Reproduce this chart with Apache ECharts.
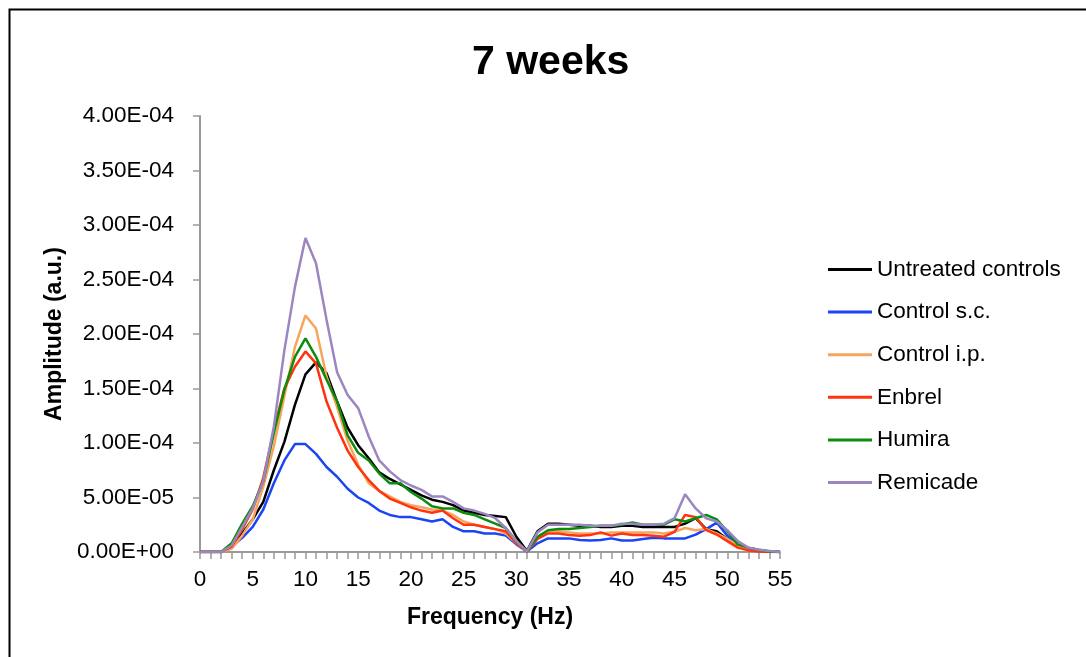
<!DOCTYPE html>
<html>
<head>
<meta charset="utf-8">
<title>7 weeks</title>
<script src="https://cdn.jsdelivr.net/npm/echarts@6/dist/echarts.min.js"></script>
<style>
  html, body { margin: 0; padding: 0; background: #fff; }
  #main { width: 1086px; height: 657px; }
</style>
</head>
<body>
<div id="main"></div>
<script>
// frequency (Hz), one point per bin
const freq = [0, 1, 2, 3, 4, 5, 6, 7, 8, 9, 10, 11, 12, 13, 14, 15, 16, 17, 18, 19,
  20, 21, 22, 23, 24, 25, 26, 27, 28, 29, 30, 31, 32, 33, 34, 35, 36, 37, 38, 39,
  40, 41, 42, 43, 44, 45, 46, 47, 48, 49, 50, 51, 52, 53, 54, 55];

// amplitudes (a.u.)
const untreated = [0, 0, 0, 0.5e-5, 1.7e-5, 3.0e-5, 4.6e-5, 7.5e-5, 10.1e-5, 13.5e-5,
  16.3e-5, 17.4e-5, 16.4e-5, 13.8e-5, 11.4e-5, 9.8e-5, 8.6e-5, 7.3e-5, 6.7e-5, 6.2e-5,
  5.7e-5, 5.2e-5, 4.8e-5, 4.6e-5, 4.3e-5, 3.8e-5, 3.6e-5, 3.4e-5, 3.3e-5, 3.2e-5,
  1.4e-5, 0.1e-5, 1.9e-5, 2.6e-5, 2.6e-5, 2.5e-5, 2.4e-5, 2.4e-5, 2.3e-5, 2.3e-5,
  2.4e-5, 2.4e-5, 2.3e-5, 2.3e-5, 2.3e-5, 2.3e-5, 2.6e-5, 3.1e-5, 2.1e-5, 1.9e-5,
  1.2e-5, 0.5e-5, 0.3e-5, 0.15e-5, 0.05e-5, 0];
const controlSC = [0, 0, 0, 0.5e-5, 1.3e-5, 2.3e-5, 3.9e-5, 6.3e-5, 8.4e-5, 9.9e-5,
  9.9e-5, 9.0e-5, 7.8e-5, 6.9e-5, 5.8e-5, 5.0e-5, 4.5e-5, 3.8e-5, 3.4e-5, 3.2e-5,
  3.2e-5, 3.0e-5, 2.8e-5, 3.0e-5, 2.3e-5, 1.9e-5, 1.9e-5, 1.7e-5, 1.7e-5, 1.5e-5,
  0.7e-5, 0.05e-5, 0.8e-5, 1.25e-5, 1.25e-5, 1.25e-5, 1.1e-5, 1.05e-5, 1.1e-5, 1.25e-5,
  1.05e-5, 1.05e-5, 1.2e-5, 1.3e-5, 1.25e-5, 1.25e-5, 1.25e-5, 1.6e-5, 2.1e-5, 2.7e-5,
  1.5e-5, 0.6e-5, 0.2e-5, 0.1e-5, 0.05e-5, 0];
const controlIP = [0, 0, 0, 0.3e-5, 1.5e-5, 3.0e-5, 6.0e-5, 9.7e-5, 14.3e-5, 18.8e-5,
  21.7e-5, 20.5e-5, 16.1e-5, 13.3e-5, 10.2e-5, 8.0e-5, 6.3e-5, 5.6e-5, 5.1e-5, 4.6e-5,
  4.3e-5, 4.1e-5, 3.9e-5, 3.8e-5, 3.4e-5, 2.8e-5, 2.5e-5, 2.3e-5, 2.1e-5, 1.7e-5,
  0.8e-5, 0.05e-5, 1.3e-5, 1.9e-5, 1.9e-5, 1.8e-5, 1.7e-5, 1.7e-5, 1.7e-5, 1.8e-5,
  1.8e-5, 1.8e-5, 1.8e-5, 1.8e-5, 1.7e-5, 1.85e-5, 2.2e-5, 2.0e-5, 2.1e-5, 1.7e-5,
  1.2e-5, 0.6e-5, 0.3e-5, 0.1e-5, 0.05e-5, 0];
const enbrel = [0, 0, 0, 0.5e-5, 2.1e-5, 3.9e-5, 6.8e-5, 11.2e-5, 15.0e-5, 17.0e-5,
  18.4e-5, 17.3e-5, 13.8e-5, 11.4e-5, 9.3e-5, 7.8e-5, 6.6e-5, 5.6e-5, 4.9e-5, 4.5e-5,
  4.1e-5, 3.8e-5, 3.6e-5, 3.8e-5, 3.1e-5, 2.5e-5, 2.5e-5, 2.3e-5, 2.1e-5, 1.9e-5,
  0.8e-5, 0.05e-5, 1.2e-5, 1.7e-5, 1.7e-5, 1.55e-5, 1.5e-5, 1.55e-5, 1.8e-5, 1.5e-5,
  1.7e-5, 1.55e-5, 1.55e-5, 1.5e-5, 1.4e-5, 1.85e-5, 3.4e-5, 3.2e-5, 2.0e-5, 1.6e-5,
  1.0e-5, 0.4e-5, 0.15e-5, 0.05e-5, 0, 0];
const humira = [0, 0, 0, 0.8e-5, 2.6e-5, 4.2e-5, 6.5e-5, 10.9e-5, 14.9e-5, 17.9e-5,
  19.6e-5, 17.9e-5, 15.8e-5, 13.8e-5, 10.7e-5, 9.1e-5, 8.4e-5, 7.2e-5, 6.3e-5, 6.3e-5,
  5.5e-5, 4.9e-5, 4.2e-5, 4.0e-5, 4.0e-5, 3.6e-5, 3.4e-5, 3.0e-5, 2.6e-5, 2.2e-5,
  1.0e-5, 0.05e-5, 1.4e-5, 2.0e-5, 2.1e-5, 2.1e-5, 2.2e-5, 2.3e-5, 2.4e-5, 2.4e-5,
  2.5e-5, 2.7e-5, 2.5e-5, 2.5e-5, 2.5e-5, 3.0e-5, 2.8e-5, 3.1e-5, 3.4e-5, 3.0e-5,
  1.9e-5, 0.7e-5, 0.4e-5, 0.2e-5, 0.05e-5, 0];
const remicade = [0, 0, 0, 0.6e-5, 2.3e-5, 4.0e-5, 6.5e-5, 11.5e-5, 18.5e-5, 24.3e-5,
  28.8e-5, 26.5e-5, 21.3e-5, 16.5e-5, 14.4e-5, 13.2e-5, 10.6e-5, 8.4e-5, 7.4e-5, 6.6e-5,
  6.1e-5, 5.7e-5, 5.1e-5, 5.1e-5, 4.6e-5, 4.0e-5, 3.8e-5, 3.5e-5, 3.1e-5, 2.2e-5,
  1.0e-5, 0.05e-5, 1.8e-5, 2.5e-5, 2.5e-5, 2.5e-5, 2.5e-5, 2.4e-5, 2.4e-5, 2.4e-5,
  2.6e-5, 2.6e-5, 2.5e-5, 2.5e-5, 2.6e-5, 3.1e-5, 5.3e-5, 4.0e-5, 3.1e-5, 2.8e-5,
  2.0e-5, 1.0e-5, 0.4e-5, 0.2e-5, 0.1e-5, 0];

const seriesNames = ['Untreated controls', 'Control s.c.', 'Control i.p.', 'Enbrel', 'Humira', 'Remicade'];
const seriesValues = [untreated, controlSC, controlIP, enbrel, humira, remicade];
const seriesColors = ['#000000', '#1a44f5', '#f7a55c', '#ff3310', '#0c8c0c', '#9b86c2'];

// Excel style scientific labels: 1.50E-04
function sci(v) {
  if (Math.abs(v) < 1e-12) return '0.00E+00';
  const parts = v.toExponential(2).split('e');
  const exp = parseInt(parts[1], 10);
  const sign = exp < 0 ? '-' : '+';
  const digits = String(Math.abs(exp)).padStart(2, '0');
  return parts[0] + 'E' + sign + digits;
}

const font = '"Liberation Sans", Arial, sans-serif';
const axisGrey = '#999999';

const chart = echarts.init(document.getElementById('main'));

chart.setOption({
  animation: false,
  backgroundColor: '#ffffff',
  textStyle: { fontFamily: font },
  title: {
    text: '7 weeks',
    left: 467,
    top: 37,
    textStyle: { fontSize: 41, fontWeight: 'bold', color: '#000', fontFamily: font }
  },
  graphic: [{
    type: 'rect',
    left: 7, top: 7,
    shape: { width: 1100, height: 700 },
    style: { fill: 'none', stroke: '#000', lineWidth: 2 },
    silent: true
  }],
  legend: {
    orient: 'vertical',
    left: 823,
    top: 253,
    icon: 'rect',
    itemWidth: 44,
    itemHeight: 3,
    itemGap: 19.6,
    textStyle: { fontSize: 22.5, color: '#000', fontFamily: font },
    data: seriesNames
  },
  grid: { left: 200, right: 306, top: 116, bottom: 105 },
  xAxis: {
    type: 'value',
    min: 0, max: 55, interval: 5,
    name: 'Frequency (Hz)',
    nameLocation: 'middle',
    nameGap: 54,
    nameTextStyle: { fontSize: 23, fontWeight: 'bold', color: '#000', fontFamily: font },
    axisLine: { show: true, onZero: false, lineStyle: { color: axisGrey, width: 2 } },
    axisTick: { show: true, length: 7, lineStyle: { color: axisGrey, width: 1.5 } },
    minorTick: { show: true, splitNumber: 5, length: 7, lineStyle: { color: axisGrey, width: 1.5 } },
    axisLabel: { fontSize: 22.5, color: '#000', margin: 16, fontFamily: font },
    splitLine: { show: false }
  },
  yAxis: {
    type: 'value',
    min: 0, max: 4e-4, interval: 0.5e-4,
    name: 'Amplitude (a.u.)',
    nameLocation: 'middle',
    nameGap: 120,
    nameTextStyle: { fontSize: 23, fontWeight: 'bold', color: '#000', fontFamily: font },
    axisLine: { show: true, lineStyle: { color: axisGrey, width: 2 } },
    axisTick: { show: true, length: 7, lineStyle: { color: axisGrey, width: 1.5 } },
    axisLabel: { fontSize: 22.5, color: '#000', margin: 26, formatter: sci, fontFamily: font },
    splitLine: { show: false }
  },
  series: seriesNames.map((name, i) => ({
    name: name,
    type: 'line',
    symbol: 'none',
    color: seriesColors[i],
    lineStyle: { width: 2.5, color: seriesColors[i] },
    data: freq.map((f, j) => [f, seriesValues[i][j]])
  }))
});
</script>
</body>
</html>
